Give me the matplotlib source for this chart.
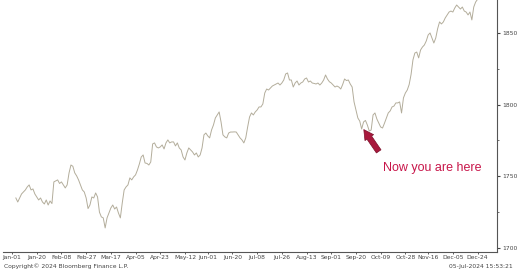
import matplotlib
matplotlib.use("Agg")
import matplotlib.pyplot as plt
from matplotlib.ticker import MultipleLocator

# trading-day index and index level
days = list(range(3, 248))
values = [
    1734.9, 1732.1, 1734.9, 1737.7, 1739.1, 1740.5, 1742.6, 1744.0, 1740.5, 1741.2,
    1737.7, 1735.6, 1733.5, 1734.9, 1732.1, 1730.7, 1733.5, 1730.0, 1732.8, 1731.0,
    1746.1, 1746.8, 1747.5, 1745.0, 1746.1, 1744.0, 1741.9, 1744.0, 1752.4, 1757.9,
    1757.0, 1752.4, 1750.3, 1747.5, 1744.0, 1740.5, 1739.1, 1734.9, 1727.5, 1730.0,
    1735.6, 1734.9, 1738.4, 1735.6, 1725.0, 1721.7, 1721.0, 1714.0, 1721.0, 1724.4,
    1727.9, 1730.0, 1727.2, 1728.6, 1724.4, 1721.0, 1731.4, 1740.5, 1742.6, 1744.0,
    1748.9, 1747.5, 1749.6, 1751.0, 1754.4, 1758.6, 1763.5, 1764.9, 1759.3, 1759.0,
    1757.9, 1760.0, 1772.6, 1773.3, 1770.5, 1769.8, 1770.5, 1771.9, 1769.1, 1773.3,
    1775.4, 1773.3, 1774.0, 1774.0, 1771.2, 1773.3, 1769.8, 1768.4, 1763.5, 1761.4,
    1766.3, 1769.8, 1768.4, 1767.0, 1764.9, 1766.3, 1763.5, 1764.9, 1769.8, 1778.9,
    1780.2, 1778.2, 1776.8, 1782.3, 1785.8, 1790.7, 1792.8, 1794.9, 1787.9, 1778.9,
    1777.5, 1776.8, 1780.2, 1780.9, 1780.9, 1781.0, 1780.9, 1778.9, 1776.8, 1775.4,
    1773.3, 1776.8, 1784.4, 1791.4, 1794.2, 1792.8, 1794.9, 1796.3, 1798.4, 1798.4,
    1800.5, 1808.1, 1810.9, 1810.2, 1811.6, 1813.0, 1813.7, 1814.4, 1815.1, 1813.7,
    1815.1, 1817.2, 1821.4, 1822.1, 1817.2, 1817.2, 1812.3, 1815.1, 1816.5, 1813.7,
    1815.1, 1815.8, 1817.9, 1818.6, 1815.8, 1816.5, 1815.1, 1814.8, 1814.4, 1815.1,
    1813.7, 1815.1, 1817.2, 1820.7, 1817.9, 1816.0, 1815.1, 1813.7, 1812.3, 1813.0,
    1812.3, 1810.9, 1814.0, 1817.9, 1816.8, 1817.2, 1814.4, 1812.3, 1801.9, 1796.3,
    1790.7, 1788.5, 1783.0, 1787.9, 1789.0, 1785.8, 1781.6, 1782.3, 1792.8, 1794.2,
    1790.0, 1787.2, 1784.4, 1783.7, 1787.0, 1790.7, 1794.2, 1795.6, 1798.4, 1799.0,
    1801.2, 1801.2, 1801.9, 1794.2, 1804.7, 1808.1, 1810.2, 1814.0, 1821.0, 1831.2,
    1836.0, 1836.7, 1832.6, 1838.1, 1840.2, 1841.6, 1844.4, 1848.6, 1850.0, 1846.5,
    1843.0, 1846.5, 1853.0, 1857.7, 1856.3, 1857.7, 1860.5, 1862.6, 1864.6, 1865.3,
    1864.6, 1867.4, 1869.5, 1868.1, 1866.7, 1868.1, 1865.3, 1864.6, 1862.6, 1864.6,
    1859.1, 1868.1, 1871.6, 1873.5, 1875.0,
]

tick_days = [1, 14, 27, 40, 53, 66, 79, 92, 104, 117, 130, 143, 156, 169, 182,
             195, 208, 220, 233, 246]
tick_labels = ["Jan-01", "Jan-20", "Feb-08", "Feb-27", "Mar-17", "Apr-05", "Apr-23",
               "May-12", "Jun-01", "Jun-20", "Jul-08", "Jul-26", "Aug-13", "Sep-01",
               "Sep-20", "Oct-09", "Oct-28", "Nov-16", "Dec-05", "Dec-24"]
y_ticks = [1700, 1750, 1800, 1850]

arrow_tail = (194.8, 1765.8)
arrow_head = (185.3, 1784.2)

fig = plt.figure(figsize=(5.2, 2.72), dpi=100)
ax = fig.add_axes([0.006, 0.0735, 0.95, 0.9265])

ax.plot(days, values, color="#b3ad9b", lw=0.7)

ax.set_xlim(-3.7, 256.3)
ax.set_ylim(1697.2, 1873.0)

ax.spines["left"].set_visible(False)
ax.spines["top"].set_visible(False)
for s in ("right", "bottom"):
    ax.spines[s].set_color("#555555")
    ax.spines[s].set_linewidth(0.8)

ax.yaxis.tick_right()
ax.set_yticks(y_ticks)
ax.yaxis.set_minor_locator(MultipleLocator(25))
ax.tick_params(axis="y", which="major", direction="out", length=2.5, width=0.8,
               labelsize=4.3, pad=1, colors="#444444")
ax.tick_params(axis="y", which="minor", direction="out", length=1.5, width=0.6,
               colors="#555555")

ax.set_xticks(tick_days)
ax.set_xticklabels(tick_labels)
ax.tick_params(axis="x", direction="out", length=1.5, width=0.6,
               labelsize=4.3, pad=1, colors="#444444")

ax.annotate("", xy=arrow_head, xytext=arrow_tail,
            arrowprops=dict(arrowstyle="simple,head_length=0.7,head_width=0.75,tail_width=0.4",
                            fc="#a8183c", ec="#7a0f2a", lw=0.5))
ax.text(196, 1755.8, "Now you are here", color="#c8164a", fontsize=9,
        family="Liberation Sans", va="center", ha="left")

fig.text(0.008, 0.012, "Copyright\u00a9 2024 Bloomberg Finance L.P.", fontsize=4.3,
         color="#444444", ha="left", va="bottom")
fig.text(0.987, 0.012, "05-Jul-2024 15:53:21", fontsize=4.3,
         color="#444444", ha="right", va="bottom")

fig.savefig("out.png", dpi=100)
